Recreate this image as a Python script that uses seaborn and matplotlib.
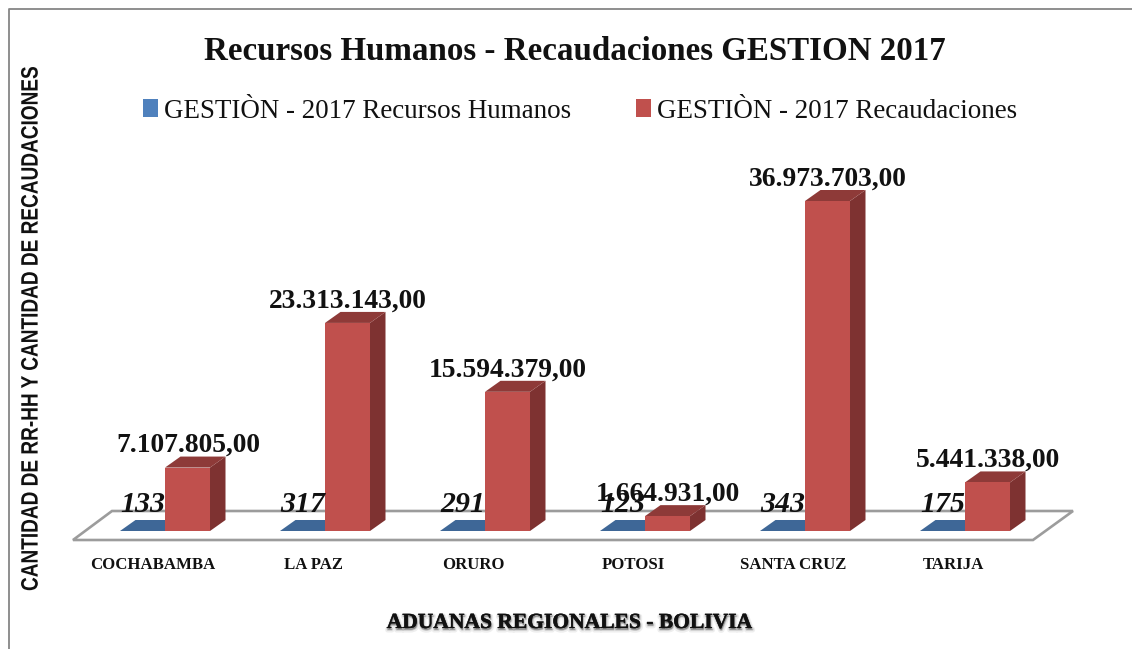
import numpy as np
import pandas as pd
import seaborn as sns
import matplotlib
matplotlib.use("Agg")
import matplotlib.pyplot as plt
from matplotlib.patches import Polygon, Rectangle
from matplotlib.transforms import IdentityTransform, Affine2D
import matplotlib.patheffects as pe

categories = ["COCHABAMBA", "LA PAZ", "ORURO", "POTOSI", "SANTA CRUZ", "TARIJA"]
recursos = [133, 317, 291, 123, 343, 175]
recaudaciones = [7107805, 23313143, 15594379, 1664931, 36973703, 5441338]
recaudacion_labels = ["7.107.805,00", "23.313.143,00", "15.594.379,00",
                      "1.664.931,00", "36.973.703,00", "5.441.338,00"]
s_rh = "GESTIÒN - 2017 Recursos Humanos"
s_rec = "GESTIÒN - 2017 Recaudaciones"

W, H = 1132, 649
SERIF = "Liberation Serif"
DX, DY = 15.5, 11


class WidenX(pe.AbstractPathEffect):
    """Scale a rotated label's glyphs across its baseline, around a fixed x."""
    def __init__(self, cx, factor):
        super().__init__()
        self.cx, self.factor = cx, factor

    def draw_path(self, renderer, gc, tpath, affine, rgbFace=None):
        extra = Affine2D().translate(-self.cx, 0).scale(self.factor, 1).translate(self.cx, 0)
        renderer.draw_path(gc, tpath, affine + extra, rgbFace)


sns.set_theme(style="white", rc={"font.family": SERIF})
df = pd.DataFrame({
    "region": categories * 2,
    "serie": [s_rh] * 6 + [s_rec] * 6,
    "valor": recursos + recaudaciones,
})

fig = plt.figure(figsize=(W / 100, H / 100), dpi=100, facecolor="white")
ax = fig.add_axes([85 / W, 1 - 531 / H, 960 / W, 330 / H])
sns.barplot(data=df, x="region", y="valor", hue="serie", order=categories,
            hue_order=[s_rh, s_rec], palette=["#4F81BD", "#C0504D"],
            width=0.5625, gap=0, saturation=1, dodge=True, errorbar=None, ax=ax, zorder=3,
            linewidth=0, edgecolor="none")
ax.set_xlim(-0.5, 5.5)
ax.set_ylim(0, max(recaudaciones))
for s in ax.spines.values():
    s.set_visible(False)
ax.set_yticks([])
ax.set_ylabel("")
ax.set_xticks(np.arange(6) - 12 / 160, labels=categories)
ax.tick_params(axis="x", length=0, pad=19)
for t in ax.get_xticklabels():
    t.set_fontsize(12.1)
    t.set_fontweight("bold")
    t.set_color("#111111")
ax.set_xlabel("ADUANAS REGIONALES - BOLIVIA", fontsize=15.5, fontweight="bold", labelpad=0, color="#111111",
              path_effects=[pe.Stroke(linewidth=3.5, foreground="#aaaaaa", alpha=0.2, offset=(0.5, -1.5)),
                            pe.Stroke(linewidth=1.5, foreground="#888888", alpha=0.3, offset=(0.5, -1.2)),
                            pe.Stroke(linewidth=0.3, foreground="#111111"),
                            pe.Normal()])
ax.xaxis.set_label_coords(483.5 / 960, -(623 - 531) / 330, transform=ax.transAxes)
ax.xaxis.label.set_va("center")

fig.canvas.draw()
disp = IdentityTransform()

# Floor of the 3D plot, derived from the axes frame
(fx0, fy), (fx1, _) = ax.transAxes.transform([[0, 0], [1, 0]])
floor = [(fx0 - 12, fy - 9), (fx1 - 12, fy - 9), (fx1 + 28, fy + 20), (fx0 + 27, fy + 20)]
ax.add_patch(Polygon(floor, closed=True, fill=False, ec="#9C9C9C", lw=1.9, transform=disp,
                     clip_on=False, zorder=1, joinstyle="miter"))

# 3D faces and data labels, derived from the bars themselves
bars = [p for p in ax.patches if isinstance(p, Rectangle) and p.get_width() > 0][:12]
blue = bars[:6]
red = bars[6:]
for b, v in zip(blue, recursos):
    (x0, y0), (x1, y1) = ax.transData.transform([(b.get_x(), 0), (b.get_x() + b.get_width(), v)])
    ax.add_patch(Polygon([(x0, y0), (x1, y0), (x1 + DX, y1 + DY), (x0 + DX, y1 + DY)], fc="#3E6797", ec="none",
                         transform=disp, clip_on=False, zorder=2))
    ax.annotate(str(v), xy=((x0 + x1) / 2, y1), xycoords=disp, xytext=(0, 26 * 0.72), textcoords="offset points",
                ha="center", va="center", fontsize=21.5, fontweight="bold", fontstyle="italic", color="#111111",
                zorder=6, annotation_clip=False)
for b, v, lab in zip(red, recaudaciones, recaudacion_labels):
    (x0, y0), (x1, y1) = ax.transData.transform([(b.get_x(), 0), (b.get_x() + b.get_width(), v)])
    ax.add_patch(Polygon([(x1, y0), (x1 + DX, y0 + DY), (x1 + DX, y1 + DY), (x1, y1)], fc="#7E3231", ec="none",
                         transform=disp, clip_on=False, zorder=2.5))
    ax.add_patch(Polygon([(x0, y1), (x1, y1), (x1 + DX, y1 + DY), (x0 + DX, y1 + DY)], fc="#8E3A38", ec="none",
                         transform=disp, clip_on=False, zorder=2.5))
    ax.annotate(lab, xy=((x0 + x1) / 2 + 0.5, y1), xycoords=disp, xytext=(0, 22 * 0.72), textcoords="offset points",
                ha="center", va="center", fontsize=19.8, fontweight="bold", color="#111111",
                zorder=6, annotation_clip=False)

# Title, legend and axis text
fig.text(574.5 / W, 1 - 51 / H, "Recursos Humanos - Recaudaciones GESTION 2017", ha="center", va="center",
         fontsize=23.8, fontweight="bold", color="#111111")
handles, labels = ax.get_legend_handles_labels()
leg = ax.legend(handles, labels, ncol=2, loc="center left", bbox_to_anchor=(143 / W, 1 - 111 / H),
                bbox_transform=fig.transFigure, frameon=False, fontsize=19.45, borderpad=0, borderaxespad=0,
                handlelength=0.57, handleheight=0.6, handletextpad=0.21, columnspacing=2.4,
                labelcolor="#111111")
ylab = fig.text(32 / W, 1 - 330 / H, "CANTIDAD DE RR-HH Y CANTIDAD DE RECAUDACIONES", rotation=90, ha="center",
                va="center", fontsize=13.7, fontweight="bold", family="Liberation Sans", color="#111111",
                path_effects=[WidenX(32, 1.25)])

# Chart frame: left and top edges only
fig.add_artist(plt.Line2D([9 / W, 9 / W, 1], [0, 1 - 9 / H, 1 - 9 / H], color="#868686", lw=1.3))

fig.savefig("out.png", dpi=100)
